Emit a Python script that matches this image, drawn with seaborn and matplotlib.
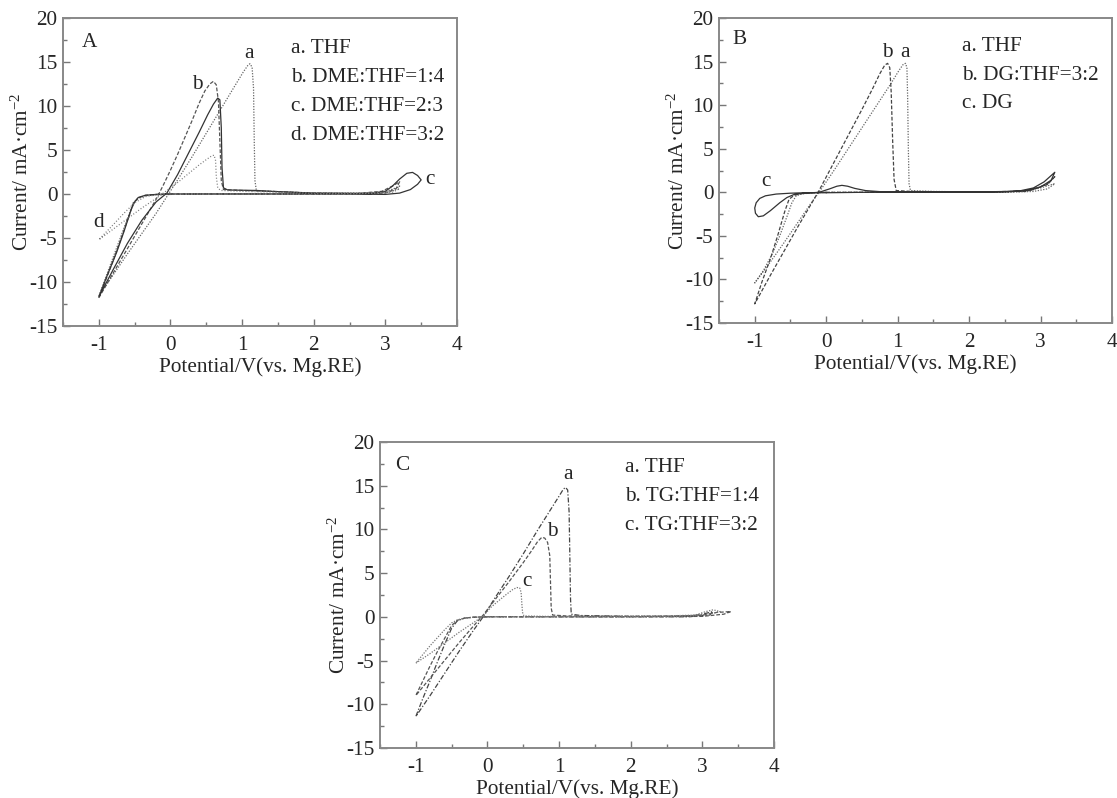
import matplotlib
matplotlib.use("Agg")
from matplotlib import pyplot as plt
from matplotlib.ticker import MultipleLocator
import seaborn as sns

# ---- panel A : THF / DME mixtures
A_a_x = [0, -0.2, -0.35, -0.45, -0.52, -0.6, -0.7, -0.8, -0.9, -1.0, -0.8, -0.6, -0.4, -0.2, -0.05, 0.1, 0.3, 0.5, 0.7, 0.9,
         1.02, 1.08, 1.11, 1.14, 1.16, 1.17, 1.18, 1.2, 1.4, 1.8, 2.2, 2.6, 2.9, 3.05, 3.15, 3.2, 3.1, 2.9, 2.5, 2.0, 1.5, 1.0, 0.5, 0]
A_a_y = [-0.05, -0.1, -0.2, -0.5, -1.0, -2.8, -5.0, -7.2, -9.4, -11.6, -9.2, -6.8, -4.5, -2.2, -0.3, 1.6, 4.2, 6.9, 9.6, 12.3,
         13.9, 14.6, 14.8, 14.4, 12.0, 6.0, 1.5, 0.35, 0.3, 0.15, 0.1, 0.1, 0.2, 0.4, 0.7, 0.9, 0.3, 0.05, 0.0, 0.0, 0.0, 0.0, 0.0, -0.05]

A_b_x = [0, -0.2, -0.35, -0.45, -0.52, -0.6, -0.7, -0.8, -0.9, -1.0, -0.8, -0.6, -0.4, -0.2, -0.1, 0.0, 0.1, 0.2, 0.3, 0.4,
         0.48, 0.55, 0.6, 0.64, 0.67, 0.69, 0.71, 0.74, 1.0, 1.4, 2.0, 2.6, 2.95, 3.1, 3.2, 3.15, 3.0, 2.5, 1.5, 0.5, 0]
A_b_y = [0, -0.05, -0.15, -0.45, -1.1, -3.0, -5.3, -7.6, -9.7, -11.8, -9.0, -6.2, -3.4, -0.6, 1.0, 2.7, 4.5, 6.4, 8.3, 10.3,
         11.7, 12.5, 12.8, 12.4, 10.5, 6.0, 1.5, 0.5, 0.4, 0.3, 0.1, 0.05, 0.3, 0.9, 1.4, 0.6, 0.1, 0.0, 0.0, 0.0, 0]

A_c_x = [0, -0.2, -0.35, -0.45, -0.5, -0.55, -0.65, -0.75, -0.88, -1.0, -0.8, -0.6, -0.4, -0.2, -0.05, 0.1, 0.25, 0.4, 0.52, 0.6,
         0.66, 0.69, 0.71, 0.72, 0.74, 0.8, 1.2, 1.4, 2.0, 2.8, 3.0, 3.1, 3.2, 3.3, 3.38, 3.45, 3.5, 3.45, 3.35, 3.2, 3.0, 2.5, 1.5, 0.5, 0]
A_c_y = [0, -0.05, -0.15, -0.4, -0.9, -1.8, -4.3, -6.6, -9.2, -11.7, -8.6, -5.6, -3.0, -0.9, 0.1, 2.2, 4.6, 7.0, 9.0, 10.2,
         10.9, 10.7, 7.5, 3.0, 0.7, 0.45, 0.4, 0.3, 0.1, 0.05, 0.3, 0.9, 1.7, 2.35, 2.45, 2.1, 1.6, 1.1, 0.5, 0.1, -0.05, 0.0, 0.0, 0.0, 0]

A_d_x = [0, -0.2, -0.35, -0.5, -0.65, -0.8, -1.0, -0.8, -0.6, -0.4, -0.2, -0.05, 0.1, 0.25, 0.4, 0.5, 0.58, 0.61, 0.63, 0.64,
         0.66, 0.7, 1.0, 1.5, 2.2, 2.9, 3.1, 3.2, 3.1, 2.5, 1.5, 0.5, 0]
A_d_y = [0, -0.1, -0.3, -1.0, -2.2, -3.5, -5.2, -4.0, -2.8, -1.6, -0.5, 0.4, 1.3, 2.3, 3.3, 3.9, 4.35, 4.4, 3.8, 2.0,
         0.7, 0.4, 0.3, 0.2, 0.1, 0.1, 0.4, 0.6, 0.2, 0.0, 0.0, 0.0, 0]

# ---- panel B : THF / DG
B_a_x = [0, -0.2, -0.35, -0.42, -0.48, -0.55, -0.65, -0.75, -0.88, -1.0, -0.8, -0.6, -0.4, -0.2, -0.1, 0.1, 0.3, 0.5, 0.7, 0.9,
         1.02, 1.08, 1.11, 1.13, 1.14, 1.15, 1.16, 1.18, 1.5, 2.0, 2.5, 2.8, 3.0, 3.2, 3.1, 2.9, 2.5, 1.5, 0.5, 0]
B_a_y = [0, -0.05, -0.2, -0.4, -1.2, -2.8, -5.0, -7.0, -9.0, -10.4, -8.2, -5.9, -3.5, -1.1, 0.0, 2.4, 4.9, 7.4, 9.9, 12.4,
         14.0, 14.7, 14.8, 14.3, 11.0, 5.0, 1.0, 0.2, 0.1, 0.05, 0.05, 0.2, 0.5, 1.0, 0.4, 0.1, 0.0, 0.0, 0.0, 0]

B_b_x = [0, -0.2, -0.35, -0.45, -0.52, -0.58, -0.68, -0.78, -0.9, -1.0, -0.8, -0.6, -0.4, -0.2, -0.1, 0.1, 0.3, 0.5, 0.65, 0.75,
         0.82, 0.86, 0.89, 0.91, 0.93, 0.95, 0.98, 1.2, 2.0, 2.6, 2.9, 3.1, 3.2, 3.1, 2.8, 2.0, 1.0, 0]
B_b_y = [0, -0.05, -0.15, -0.35, -0.8, -2.2, -5.0, -7.6, -10.3, -12.8, -9.8, -6.9, -4.0, -1.2, 0.2, 3.3, 6.4, 9.5, 11.9, 13.6,
         14.6, 14.8, 14.3, 11.5, 6.0, 1.5, 0.2, 0.1, 0.05, 0.1, 0.3, 1.0, 1.8, 0.9, 0.1, 0.0, 0.0, 0]

B_c_x = [0, -0.3, -0.5, -0.7, -0.85, -0.93, -0.98, -1.0, -0.99, -0.95, -0.88, -0.78, -0.65, -0.55, -0.45, -0.3, -0.1, 0.05, 0.15, 0.22,
         0.3, 0.4, 0.55, 0.8, 1.5, 2.3, 2.7, 2.9, 3.05, 3.2, 3.15, 3.0, 2.8, 2.5, 1.5, 0.5, 0]
B_c_y = [-0.05, -0.05, -0.1, -0.2, -0.4, -0.7, -1.2, -1.8, -2.4, -2.8, -2.7, -2.1, -1.2, -0.6, -0.25, -0.1, 0.0, 0.4, 0.7, 0.8,
         0.7, 0.45, 0.2, 0.05, 0.05, 0.05, 0.15, 0.5, 1.2, 2.3, 1.4, 0.6, 0.2, 0.05, 0.0, 0.0, -0.05]

# ---- panel C : THF / TG
C_a_x = [0, -0.2, -0.32, -0.42, -0.5, -0.6, -0.7, -0.8, -0.9, -1.0, -0.8, -0.6, -0.4, -0.2, -0.06, 0.1, 0.3, 0.5, 0.7, 0.9,
         1.0, 1.06, 1.09, 1.12, 1.14, 1.15, 1.16, 1.17, 1.3, 2.0, 2.6, 2.9, 3.05, 3.15, 3.1, 2.8, 2.0, 1.0, 0]
C_a_y = [0, -0.05, -0.15, -0.45, -1.3, -3.2, -5.2, -7.3, -9.3, -11.4, -9.0, -6.5, -4.0, -1.6, 0.0, 2.1, 4.6, 7.2, 9.9, 12.5,
         13.8, 14.6, 14.8, 14.5, 12.0, 7.0, 2.0, 0.3, 0.15, 0.05, 0.05, 0.15, 0.4, 0.6, 0.2, 0.0, 0.0, 0.0, 0]

C_b_x = [0, -0.2, -0.32, -0.42, -0.5, -0.6, -0.7, -0.8, -0.9, -1.0, -0.8, -0.6, -0.4, -0.2, -0.06, 0.1, 0.3, 0.5, 0.62, 0.7,
         0.76, 0.8, 0.84, 0.87, 0.88, 0.89, 0.91, 1.1, 2.0, 2.7, 3.0, 3.2, 3.4, 3.3, 3.0, 2.0, 1.0, 0]
C_b_y = [0, -0.05, -0.15, -0.4, -1.0, -2.5, -4.0, -5.6, -7.3, -9.0, -7.0, -5.0, -3.0, -1.1, 0.2, 1.9, 4.0, 6.2, 7.6, 8.6,
         9.1, 9.0, 8.5, 7.0, 4.0, 1.0, 0.2, 0.1, 0.05, 0.1, 0.2, 0.5, 0.6, 0.3, 0.05, 0.0, 0.0, 0]

C_c_x = [0, -0.2, -0.32, -0.42, -0.5, -0.6, -0.7, -0.8, -0.9, -1.0, -0.8, -0.6, -0.4, -0.2, -0.06, 0.05, 0.15, 0.27, 0.35, 0.41,
         0.45, 0.47, 0.48, 0.49, 0.51, 0.8, 1.5, 2.5, 2.9, 3.05, 3.15, 3.25, 3.1, 2.8, 2.0, 1.0, 0]
C_c_y = [0, -0.05, -0.15, -0.35, -0.7, -1.5, -2.4, -3.3, -4.3, -5.3, -4.2, -3.0, -1.8, -0.7, 0.1, 1.1, 1.8, 2.6, 3.1, 3.35,
         3.3, 2.8, 1.5, 0.5, 0.1, 0.05, 0.05, 0.1, 0.2, 0.6, 0.8, 0.6, 0.3, 0.05, 0.0, 0.0, 0]

legend_A = ["a. THF", "b. DME:THF=1:4", "c. DME:THF=2:3", "d. DME:THF=3:2"]
legend_B = ["a. THF", "b. DG:THF=3:2", "c. DG"]
legend_C = ["a. THF", "b. TG:THF=1:4", "c. TG:THF=3:2"]

sns.set_style("ticks")
plt.rcParams['font.family'] = ['Liberation Serif', 'DejaVu Serif']
plt.rcParams['mathtext.fontset'] = 'custom'
plt.rcParams['mathtext.rm'] = 'Liberation Serif'
plt.rcParams['mathtext.it'] = 'Liberation Serif:italic'
plt.rcParams['axes.unicode_minus'] = False

DOT = (0, (1, 1.2))
FINEDOT = (0, (0.8, 1.6))
DASH = (0, (3, 1.5))
DASHDOT = (0, (4, 1.5, 1, 1.5))
FS = 15.3


def panel(ax, curves, tag, legend, lx, ly, labels):
    for x, y, ls, col in curves:
        sns.lineplot(x=x, y=y, ax=ax, sort=False, estimator=None, color=col, linestyle=ls, linewidth=0.9)
    ax.set_xlim(-1.5, 4)
    ax.set_ylim(-15, 20)
    ax.xaxis.set_major_locator(MultipleLocator(1))
    ax.xaxis.set_minor_locator(MultipleLocator(0.5))
    ax.yaxis.set_major_locator(MultipleLocator(5))
    ax.yaxis.set_minor_locator(MultipleLocator(2.5))
    ax.tick_params(which='both', direction='in', color='#777777', width=1, labelsize=FS)
    ax.tick_params(which='major', length=5)
    ax.tick_params(which='minor', length=3)
    ax.tick_params(axis='x', pad=7)
    ax.tick_params(axis='y', pad=4)
    for s in ax.spines.values():
        s.set_color('#888888')
        s.set_linewidth(1.4)
    ax.set_xlabel("Potential/V(vs. Mg.RE)", fontsize=FS, labelpad=2)
    ax.set_ylabel("Current/ mA\u00b7cm$^{-2}$", fontsize=FS, labelpad=-3)
    ax.text(tag[1], tag[2], tag[0], transform=ax.transAxes, fontsize=FS, va='center')
    for i, t in enumerate(legend):
        ax.text(lx, ly - i * 0.094, t, transform=ax.transAxes, fontsize=FS, va='center')
    for t, x, y in labels:
        ax.text(x, y, t, fontsize=FS, ha='center', va='center')


fig = plt.figure(figsize=(11.17, 7.98), dpi=100)
axA = fig.add_axes([0.0564, 0.5915, 0.3527, 0.386])
axB = fig.add_axes([0.6437, 0.5952, 0.3518, 0.3822])
axC = fig.add_axes([0.3402, 0.0627, 0.3527, 0.3835])

panel(axA,
      [(A_a_x, A_a_y, DOT, '#666666'), (A_b_x, A_b_y, DASH, '#555555'),
       (A_c_x, A_c_y, '-', '#333333'), (A_d_x, A_d_y, FINEDOT, '#777777')],
      ("A", 0.047, 0.921), legend_A, 0.58, 0.901,
      [("a", 1.09, 16.0), ("b", 0.37, 12.4), ("c", 3.62, 1.6), ("d", -1.0, -3.2)])
panel(axB,
      [(B_a_x, B_a_y, DOT, '#666666'), (B_b_x, B_b_y, DASH, '#444444'),
       (B_c_x, B_c_y, '-', '#333333')],
      ("B", 0.033, 0.929), legend_B, 0.618, 0.907,
      [("b", 0.85, 16.0), ("a", 1.11, 16.0), ("c", -0.85, 1.2)])
panel(axC,
      [(C_a_x, C_a_y, DASHDOT, '#444444'), (C_b_x, C_b_y, DASH, '#555555'),
       (C_c_x, C_c_y, DOT, '#777777')],
      ("C", 0.038, 0.924), legend_C, 0.622, 0.916,
      [("a", 1.12, 16.3), ("b", 0.91, 9.8), ("c", 0.55, 4.0)])

fig.savefig("out.png", dpi=100)
